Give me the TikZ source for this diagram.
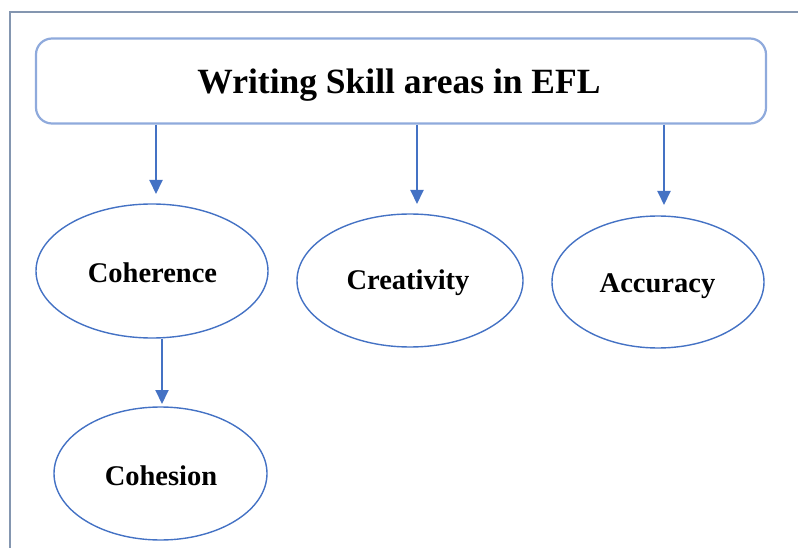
\documentclass[tikz,border=0pt]{standalone}
\usepackage{fontspec}
\setmainfont{Liberation Serif}
\usetikzlibrary{shapes.geometric,arrows.meta}
\definecolor{boxblue}{HTML}{8FAADC}
\definecolor{ellblue}{HTML}{4472C4}
\definecolor{framegray}{HTML}{8496B0}
\tikzset{
  titlebox/.style={draw=boxblue, line width=2.2pt, rounded corners=16pt, minimum width=730pt, minimum height=85pt, inner sep=0pt},
  oval/.style={draw=ellblue, line width=1.4pt, ellipse, inner sep=0pt},
  lbl/.style={anchor=base, font=\fontsize{28.5}{32}\selectfont\bfseries, inner sep=0pt},
  arr/.style={draw=ellblue, line width=2pt, -{Triangle[length=14pt,width=13pt]}},
  frame/.style={draw=framegray, line width=1.5pt}
}
\begin{document}
\begin{tikzpicture}[x=1pt,y=-1pt]
\useasboundingbox (0,0) rectangle (798,548);
\coordinate (fa) at (10,548);
\coordinate (fb) at (10,12);
\coordinate (fc) at (798,12);
\draw[frame] (fa) -- (fb) -- (fc);

\node[titlebox] (title) at (401,81) {};
\node[anchor=base, font=\fontsize{35.5}{40}\selectfont\bfseries, inner sep=0pt] (titleT) at (399,94) {Writing Skill areas in EFL};

\node[oval, minimum width=232pt, minimum height=134pt] (coh) at (152,271) {};
\node[lbl] (cohT) at (152.5,283) {Coherence};
\node[oval, minimum width=226pt, minimum height=133pt] (cre) at (410,280.5) {};
\node[lbl] (creT) at (408,289) {Creativity};
\node[oval, minimum width=212pt, minimum height=132pt] (acc) at (658,282) {};
\node[lbl] (accT) at (657.5,292) {Accuracy};
\node[oval, minimum width=213pt, minimum height=133pt] (chs) at (160.5,473.5) {};
\node[lbl] (chsT) at (161,485) {Cohesion};

\coordinate (t1) at (156,194);
\coordinate (t2) at (417,204);
\coordinate (t3) at (664,205);
\coordinate (t4) at (162,404);
\draw[arr] (title.south -| t1) -- (t1);
\draw[arr] (title.south -| t2) -- (t2);
\draw[arr] (title.south -| t3) -- (t3);
\draw[arr] (coh.south -| t4) -- (t4);
\end{tikzpicture}
\end{document}
